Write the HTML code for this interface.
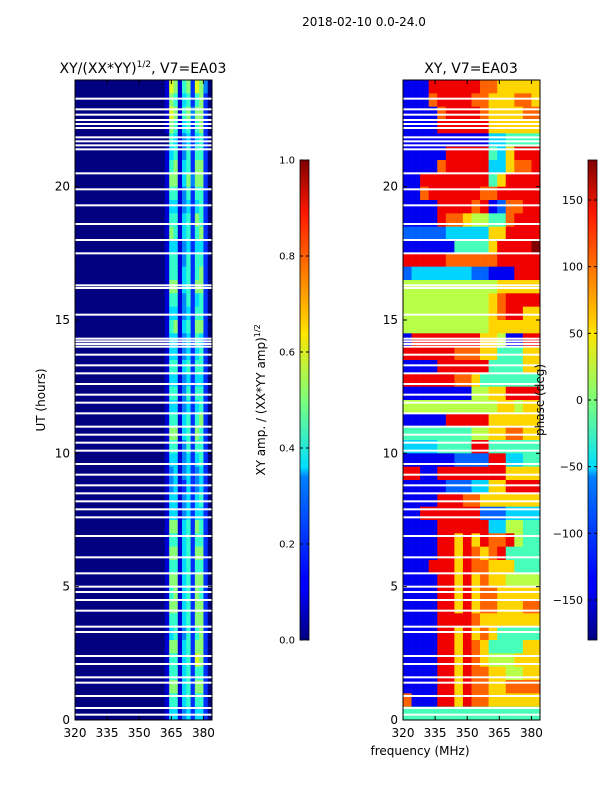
<!DOCTYPE html>
<html><head><meta charset="utf-8">
<style>
html,body{margin:0;padding:0;background:#fff;}
svg{display:block;font-family:"DejaVu Sans","Liberation Sans",sans-serif;}
</style></head>
<body>
<svg id="fig" width="600" height="800" viewBox="0 0 600 800" xmlns="http://www.w3.org/2000/svg">
<defs>
<linearGradient id="jet" x1="0" y1="1" x2="0" y2="0">
<stop offset="0" stop-color="#000080"/><stop offset="0.11" stop-color="#0000ff"/>
<stop offset="0.125" stop-color="#0000ff"/><stop offset="0.34" stop-color="#0080ff"/>
<stop offset="0.36" stop-color="#00e0ff"/><stop offset="0.5" stop-color="#7dff7a"/>
<stop offset="0.64" stop-color="#ffe600"/><stop offset="0.66" stop-color="#ffd000"/>
<stop offset="0.89" stop-color="#ff1800"/><stop offset="1" stop-color="#800000"/>
</linearGradient>
</defs>
<text x="364" y="26" font-size="12" text-anchor="middle">2018-02-10 0.0-24.0</text>
<text x="143" y="73" font-size="14" text-anchor="middle">XY/(XX*YY)<tspan font-size="9" dy="-6">1/2</tspan><tspan dy="6">, V7=EA03</tspan></text>
<text x="471" y="73" font-size="14" text-anchor="middle">XY, V7=EA03</text>
<g id="left"></g>
<g id="right"></g>
<g id="axes"></g>
<text transform="translate(45,400) rotate(-90)" font-size="12" text-anchor="middle">UT (hours)</text>
<text x="420" y="755" font-size="12" text-anchor="middle">frequency (MHz)</text>
<rect x="300" y="160" width="9" height="480" fill="url(#jet)" stroke="#000" stroke-width="0.8"/>
<rect x="588" y="160" width="9" height="480" fill="url(#jet)" stroke="#000" stroke-width="0.8"/>
<text transform="translate(265,400) rotate(-90)" font-size="12" text-anchor="middle">XY amp. / (XX*YY amp)<tspan font-size="8" dy="-5">1/2</tspan></text>
<text transform="translate(544,400) rotate(-90)" font-size="12" text-anchor="middle">phase (deg)</text>
<g id="cbticks"></g>
</svg>
<script>
// ---- data ----
const timeRows = 48; // 0.5 h rows, listed top (23.5h) to bottom (0h)
const leftFreqEdges = [320,362,364,366,368,370,372,374,376,378,380,382,384];
const leftRows = [
"017615627630","016514525620","017615636620","016514525620","005413424520","014513525520",
"015614526620","016614636620","015513525520","014413424520","015514526520","016514525620",
"014413424420","015513525520","015514525620","016614526620","015513524520","014413425520",
"015614526620","014413425420","014413424520","015514525520","014413424420","015513525520",
"014413424520","015514525620","016614526520","015513525520","014413424520","013413423420",
"013412423420","014413424520","014413424420","016614526520","015514525520","016614526620",
"015514525520","016614526620","015614526520","016614526620","015514526620","014513525620",
"016614526620","015514527620","015514525520","016614526620","015514525520","014413424420"];
const rightFreqEdges = [320,324,328,332,336,340,344,348,352,356,360,364,368,372,376,380,384];
const rightRows = [
"1118888887766666","1117888877666776","1111788887666677","1111888888666666","1111111111334444","1111188888436888",
"1111788888336778","1188888888468888","1178888887788888","1111888878127788","1111877655447888","2222233333668888",
"1111114444688889","8888877777788888","2333333322111888","5555555555566666","5555555555678888","5555555555678866",
"5555555555666666","1888888886651188","8888887776644466","1111888888444466","8888887764444444","1111111155668888",
"5555555555566566","1111188888666666","4444444455667766","3333444488444444","1111112222883344","8811888888886666",
"1111122233668888","1111888776666666","1188888882223333","1111888888335544","1111886868778544","1111886876784444",
"1118886877666444","1111886867665555","1111886867766666","1111886867766677","1111888876666666","1111886867644444",
"1111886876444466","1111886876555666","1111886877665566","1111886877667777","7111886877666666","4444444444444444"];
const flaggedHours = [0.2,0.45,0.9,1.4,1.6,2.1,2.4,3.3,3.5,4.1,4.5,4.8,5.0,5.5,6.1,6.9,7.6,7.9,8.2,8.5,8.8,9.2,9.6,
10.1,10.4,10.7,11.0,11.5,11.9,12.2,12.6,13.0,13.3,13.7,14.0,14.1,14.2,14.3,15.2,16.2,16.3,17.5,18.0,18.6,19.3,
19.9,20.5,21.4,21.55,21.7,21.85,22.2,22.35,22.5,22.7,22.9,23.3];
const yTicks = [0,5,10,15,20];
const xTicks = [320,335,350,365,380];
const ampTicks = [0.0,0.2,0.4,0.6,0.8,1.0];
const phaseTicks = [-150,-100,-50,0,50,100,150];

// ---- helpers ----
const NS="http://www.w3.org/2000/svg";
function jet(v){v=Math.max(0,Math.min(1,v));
 const c=x=>Math.round(255*Math.max(0,Math.min(1,x)));
 return `rgb(${c(1.5-Math.abs(4*v-3))},${c(1.5-Math.abs(4*v-2))},${c(1.5-Math.abs(4*v-1))})`;}
const Y0=720,Y1=80;
const yScale=h=>Y0-(h/24)*(Y0-Y1);
const xL=f=>75+(f-320)/64*137;
const xR=f=>403+(f-320)/64*137;
function mk(parent,tag,attrs){const e=document.createElementNS(NS,tag);for(const k in attrs)e.setAttribute(k,attrs[k]);parent.appendChild(e);return e;}

function drawPanel(g,rows,edges,xs,name,scale){
 rows.forEach((row,ri)=>{
  const tTop=24-ri*0.5, tBot=tTop-0.5;
  for(let ci=0;ci<edges.length-1;ci++){
   const v=parseInt(row[ci])*scale;
   const r=mk(g,'rect',{x:xs(edges[ci]).toFixed(2),y:yScale(tTop).toFixed(2),width:(xs(edges[ci+1])-xs(edges[ci])+0.3).toFixed(2),height:(yScale(tBot)-yScale(tTop)+0.3).toFixed(2),fill:jet(v)});
   
   
  }
 });
 flaggedHours.forEach(h=>{
  const r=mk(g,'rect',{x:xs(320),y:(yScale(h)-1).toFixed(2),width:(xs(384)-xs(320)).toFixed(2),height:2,fill:'#fff'});
  
  
 });
}
drawPanel(document.getElementById('left'),leftRows,leftFreqEdges,xL,'amp',0.085);
drawPanel(document.getElementById('right'),rightRows,rightFreqEdges,xR,'phase',1/9);

const ax=document.getElementById('axes');
[[xL,75],[xR,403]].forEach(([xs,x0],pi)=>{
 const fr=mk(ax,'rect',{x:x0,y:80,width:137,height:640,fill:'none',stroke:'#000','stroke-width':1});
 
 
 yTicks.forEach(t=>{
  const y=yScale(t);
  mk(ax,'line',{x1:x0,x2:x0+4,y1:y,y2:y,stroke:'#000'});
  mk(ax,'line',{x1:x0+137,x2:x0+133,y1:y,y2:y,stroke:'#000'});
  const tx=mk(ax,'text',{x:x0-5,y:y+4,'font-size':12,'text-anchor':'end'});
  tx.textContent=t;
  
  
 });
 xTicks.forEach(f=>{
  const x=xs(f);
  mk(ax,'line',{x1:x,x2:x,y1:720,y2:716,stroke:'#000'});
  mk(ax,'line',{x1:x,x2:x,y1:80,y2:84,stroke:'#000'});
  const tx=mk(ax,'text',{x:x,y:737,'font-size':12,'text-anchor':'middle'});
  tx.textContent=f;
  
  
 });
});
const cb=document.getElementById('cbticks');
ampTicks.forEach(v=>{
 const y=640-v*480;
 mk(cb,'line',{x1:300,x2:303,y1:y,y2:y,stroke:'#000'});
 mk(cb,'line',{x1:309,x2:306,y1:y,y2:y,stroke:'#000'});
 const tx=mk(cb,'text',{x:295,y:y+3.5,'font-size':10,'text-anchor':'end'});
 tx.textContent=v.toFixed(1);
 
 
});
phaseTicks.forEach(v=>{
 const y=640-(v+180)/360*480;
 mk(cb,'line',{x1:588,x2:591,y1:y,y2:y,stroke:'#000'});
 mk(cb,'line',{x1:597,x2:594,y1:y,y2:y,stroke:'#000'});
 const tx=mk(cb,'text',{x:583,y:y+4,'font-size':11,'text-anchor':'end'});
 tx.textContent=v<0?'\u2212'+(-v):v;
 
 
});
</script>
</body></html>
